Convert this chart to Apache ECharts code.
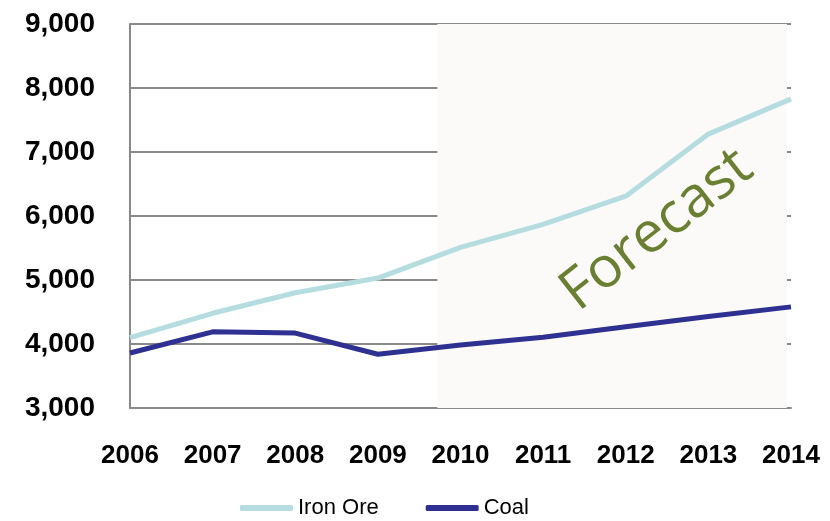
<!DOCTYPE html>
<html><head><meta charset="utf-8">
<script src="https://cdn.jsdelivr.net/npm/echarts@6/dist/echarts.min.js"></script>
<style>html,body{margin:0;padding:0;background:#fff}#c{width:830px;height:521px}</style>
</head><body><div id="c"></div>
<script>
var years = ['2006','2007','2008','2009','2010','2011','2012','2013','2014'];
var ironOre = [4100, 4480, 4800, 5030, 5510, 5870, 6310, 7280, 7830];
var coal = [3860, 4190, 4170, 3840, 3985, 4105, 4270, 4430, 4580];
var yTicks = [3000, 4000, 5000, 6000, 7000, 8000, 9000];
var forecastRange = [3.72, 7.95]; // category-index units
var forecastLabel = 'Forecast';

var FONT = "'Liberation Sans Narrow','Arial Narrow','Liberation Sans',sans-serif";
var chart = echarts.init(document.getElementById('c'));
chart.setOption({
  animation: false,
  grid: {left: 130, right: 39, top: 24, bottom: 113, containLabel: false},
  legend: {
    left: 240, top: 497, padding: 0, itemWidth: 53, itemHeight: 6, itemGap: 47, icon: 'roundRect',
    textStyle: {fontFamily: FONT, fontSize: 22, color: '#000'},
    data: ['Iron Ore', 'Coal']
  },
  xAxis: [{
    type: 'category', data: years, boundaryGap: false,
    axisLine: {lineStyle: {color: '#8a8a8a', width: 2}},
    axisTick: {show: false},
    axisLabel: {interval: 0, fontFamily: FONT, fontSize: 26, fontWeight: 'bold', color: '#000', margin: 35}
  }, {
    type: 'value', min: 0, max: years.length - 1, show: false
  }],
  yAxis: {
    type: 'value', min: yTicks[0], max: yTicks[yTicks.length - 1], interval: 1000,
    axisLine: {show: true, lineStyle: {color: '#8a8a8a', width: 2}},
    axisTick: {show: false},
    splitLine: {lineStyle: {color: '#8a8a8a', width: 2}},
    axisLabel: {fontFamily: FONT, fontSize: 28, fontWeight: 'bold', color: '#000', margin: 35,
      formatter: function (v) { return v.toLocaleString('en-US'); }}
  },
  series: [{
    name: 'shade', type: 'line', xAxisIndex: 1, data: [], silent: true,
    markArea: {
      silent: true,
      itemStyle: {color: '#fbfaf9'},
      data: [[{xAxis: forecastRange[0], yAxis: yTicks[yTicks.length - 1]}, {xAxis: forecastRange[1], yAxis: yTicks[0]}]]
    },
    z: 0
  }, {
    name: 'Iron Ore', type: 'line', data: ironOre, symbol: 'none',
    lineStyle: {color: '#b5dde0', width: 5}, itemStyle: {color: '#b5dde0'}, z: 5
  }, {
    name: 'Coal', type: 'line', data: coal, symbol: 'none',
    lineStyle: {color: '#2e3192', width: 5}, itemStyle: {color: '#2e3192'}, z: 6
  }],
  graphic: [{
    type: 'text', x: 657, y: 230, rotation: 38 * Math.PI / 180, z: 3,
    style: {text: forecastLabel, fill: '#6a7f32', fontFamily: "'Open Sans','Noto Sans',sans-serif",
      fontSize: 57, align: 'center', verticalAlign: 'middle'}
  }]
});
</script></body></html>
